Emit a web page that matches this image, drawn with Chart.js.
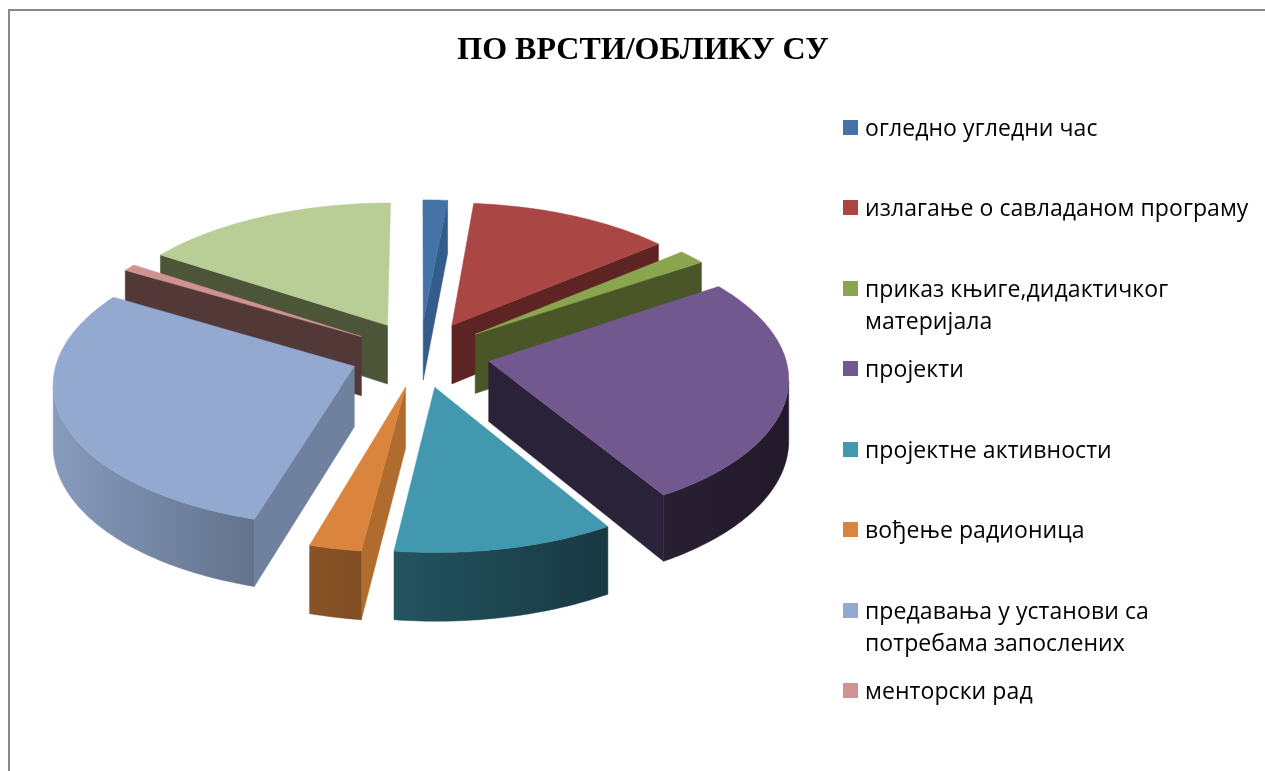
<!DOCTYPE html>
<html>
<head>
<meta charset="utf-8">
<title>ПО ВРСТИ/ОБЛИКУ СУ</title>
<script src="https://cdn.jsdelivr.net/npm/chart.js@4"></script>
<style>
    html, body { margin: 0; padding: 0; background: #fff; overflow: hidden; }
    #page { position: relative; width: 1265px; height: 771px; overflow: hidden; }
    #frame { position: absolute; left: 8px; top: 9px; width: 1300px; height: 800px;
             border-left: 2px solid #888; border-top: 2px solid #888; }
    #chartForm { position: absolute; left: 0; top: 0; }
    #legend { position: absolute; left: 0; top: 0; margin: 0; padding: 0; list-style: none;
              font: 23px "Open Sans", sans-serif; letter-spacing: 0.08px; color: #000; }
    #legend li { position: absolute; left: 865px; line-height: 32px; white-space: nowrap; }
    #legend i { position: absolute; left: -22px; top: 9px; width: 15px; height: 15px; }
</style>
</head>
<body>
<div id="page">
    <div id="frame"></div>
    <canvas id="chartForm" width="1265" height="771"></canvas>
    <ul id="legend"></ul>
</div>
<script>
// Data
const chartTitle = "ПО ВРСТИ/ОБЛИКУ СУ";
const categories = [
    ["огледно угледни час"],
    ["излагање о савладаном програму"],
    ["приказ књиге,дидактичког", "материјала"],
    ["пројекти"],
    ["пројектне активности"],
    ["вођење радионица"],
    ["предавања у установи са", "потребама запослених"],
    ["менторски рад"],
    [""],
];
const values = [1.5, 12.4, 1.7, 25.8, 10.6, 2.5, 29, 0.8, 15.7];

// Colours
const faceColors = ["#4573A7", "#AA4643", "#89A54E", "#71588F", "#4198AF", "#DB843D", "#93A9CF", "#D19392", "#B9CD96"];
const cutColors = ["#335C8A", "#5E2423", "#4A5528", "#2A2238", "#2A6070", "#AF6C2E", "#6F819F", "#533838", "#4D5539"];

// Look of the 3D view
const view = { cx: 420, cy: 354, tilt: 0.475, persp: 0.00035, depth: 60 };
const wallShade = [[50, 0.92], [250, 0.68], [360, 0.58], [600, 0.38], [790, 0.3]];

const project = (u, v, z) => {
    const s = 1 / (1 - v * view.persp);
    return { x: view.cx + u * s, y: view.cy + (v * view.tilt + z) * s };
};

const shadeAt = (x) => {
    if (x <= wallShade[0][0]) return wallShade[0][1];
    for (let i = 1; i < wallShade.length; i++) {
        const [x0, s0] = wallShade[i - 1];
        const [x1, s1] = wallShade[i];
        if (x <= x1) return s0 + (s1 - s0) * (x - x0) / (x1 - x0);
    }
    return wallShade[wallShade.length - 1][1];
};

const shadeColor = (hex, k) => {
    const n = parseInt(hex.slice(1), 16);
    return `rgb(${Math.round((n >> 16) * k)},${Math.round(((n >> 8) & 255) * k)},${Math.round((n & 255) * k)})`;
};

const fillPoly = (ctx, pts, fill) => {
    ctx.beginPath();
    pts.forEach((p, i) => (i ? ctx.lineTo(p.x, p.y) : ctx.moveTo(p.x, p.y)));
    ctx.closePath();
    ctx.fillStyle = fill;
    ctx.fill();
    ctx.strokeStyle = fill;
    ctx.lineWidth = 0.5;
    ctx.stroke();
};

// Draws the arc elements of the pie as exploded slices with perspective and depth
const pie3d = {
    id: "pie3d",
    beforeDatasetsDraw(chart) {
        const ctx = chart.ctx;
        const arcs = chart.getDatasetMeta(0).data.map((arc, index) => {
            const p = arc.getProps(["startAngle", "endAngle", "outerRadius"], true);
            const start = p.startAngle + Math.PI / 2;
            const end = p.endAngle + Math.PI / 2;
            const mid = (start + end) / 2;
            return { index, start, end, mid, r: p.outerRadius, off: arc.options.offset };
        });
        arcs.sort((a, b) => Math.cos(b.mid) - Math.cos(a.mid));

        arcs.forEach((a) => {
            const tipU = a.off * Math.sin(a.mid);
            const tipV = -a.off * Math.cos(a.mid);
            const rim = (t, z) => project(tipU + a.r * Math.sin(t), tipV - a.r * Math.cos(t), z);
            const tip = (z) => project(tipU, tipV, z);
            const face = faceColors[a.index];
            const cut = cutColors[a.index];
            const eyeV = 1 / view.persp;
            // wall is seen where its outward normal points at the eye
            const wallSeen = (t) => {
                const u = tipU + a.r * Math.sin(t);
                const v = tipV - a.r * Math.cos(t);
                return -u * Math.sin(t) - (eyeV - v) * Math.cos(t) > 0;
            };

            if (Math.sin(a.start) < 0) {
                fillPoly(ctx, [tip(0), rim(a.start, 0), rim(a.start, view.depth), tip(view.depth)], cut);
            }
            if (Math.sin(a.end) > 0) {
                fillPoly(ctx, [tip(0), rim(a.end, 0), rim(a.end, view.depth), tip(view.depth)], cut);
            }

            const steps = Math.max(2, Math.ceil((a.end - a.start) / 0.02));
            const top = [tip(0)];
            const wallTop = [];
            const wallBottom = [];
            for (let i = 0; i <= steps; i++) {
                const t = a.start + (a.end - a.start) * i / steps;
                top.push(rim(t, 0));
                if (wallSeen(t)) {
                    wallTop.push(rim(t, 0));
                    wallBottom.unshift(rim(t, view.depth));
                }
            }
            if (wallTop.length > 1) {
                const xs = wallTop.map((p) => p.x);
                const x0 = Math.min(...xs);
                const x1 = Math.max(...xs);
                const grad = ctx.createLinearGradient(x0, 0, x1, 0);
                for (let i = 0; i <= 6; i++) {
                    grad.addColorStop(i / 6, shadeColor(face, shadeAt(x0 + (x1 - x0) * i / 6)));
                }
                fillPoly(ctx, wallTop.concat(wallBottom), grad);
            }
            fillPoly(ctx, top, face);
        });
        return false;
    },
};

const setupChart = () => {
    const config = {
        type: "pie",
        data: {
            labels: categories.map((c) => c.join(" ")),
            datasets: [
                {
                    data: values,
                    backgroundColor: faceColors,
                    borderWidth: 0,
                    offset: 70,
                },
            ],
        },
        options: {
            responsive: false,
            animation: false,
            radius: 296,
            layout: { padding: { left: 21 } },
            plugins: {
                legend: { display: false },
                tooltip: { enabled: false },
                title: {
                    display: true,
                    text: chartTitle,
                    color: "#000",
                    font: { family: "Liberation Serif", size: 32, weight: "bold" },
                    padding: { top: 32, bottom: 0 },
                },
            },
        },
        plugins: [pie3d],
    };
    new Chart(document.getElementById("chartForm"), config);
};

const setupLegend = () => {
    const list = document.getElementById("legend");
    categories.forEach((lines, i) => {
        if (!lines[0]) return;
        const li = document.createElement("li");
        li.style.top = 110.5 + i * 80.5 + "px";
        const box = document.createElement("i");
        box.style.background = faceColors[i];
        li.appendChild(box);
        lines.forEach((line, j) => {
            if (j) li.appendChild(document.createElement("br"));
            li.appendChild(document.createTextNode(line));
        });
        list.appendChild(li);
    });
};

setupChart();
setupLegend();
</script>
</body>
</html>
